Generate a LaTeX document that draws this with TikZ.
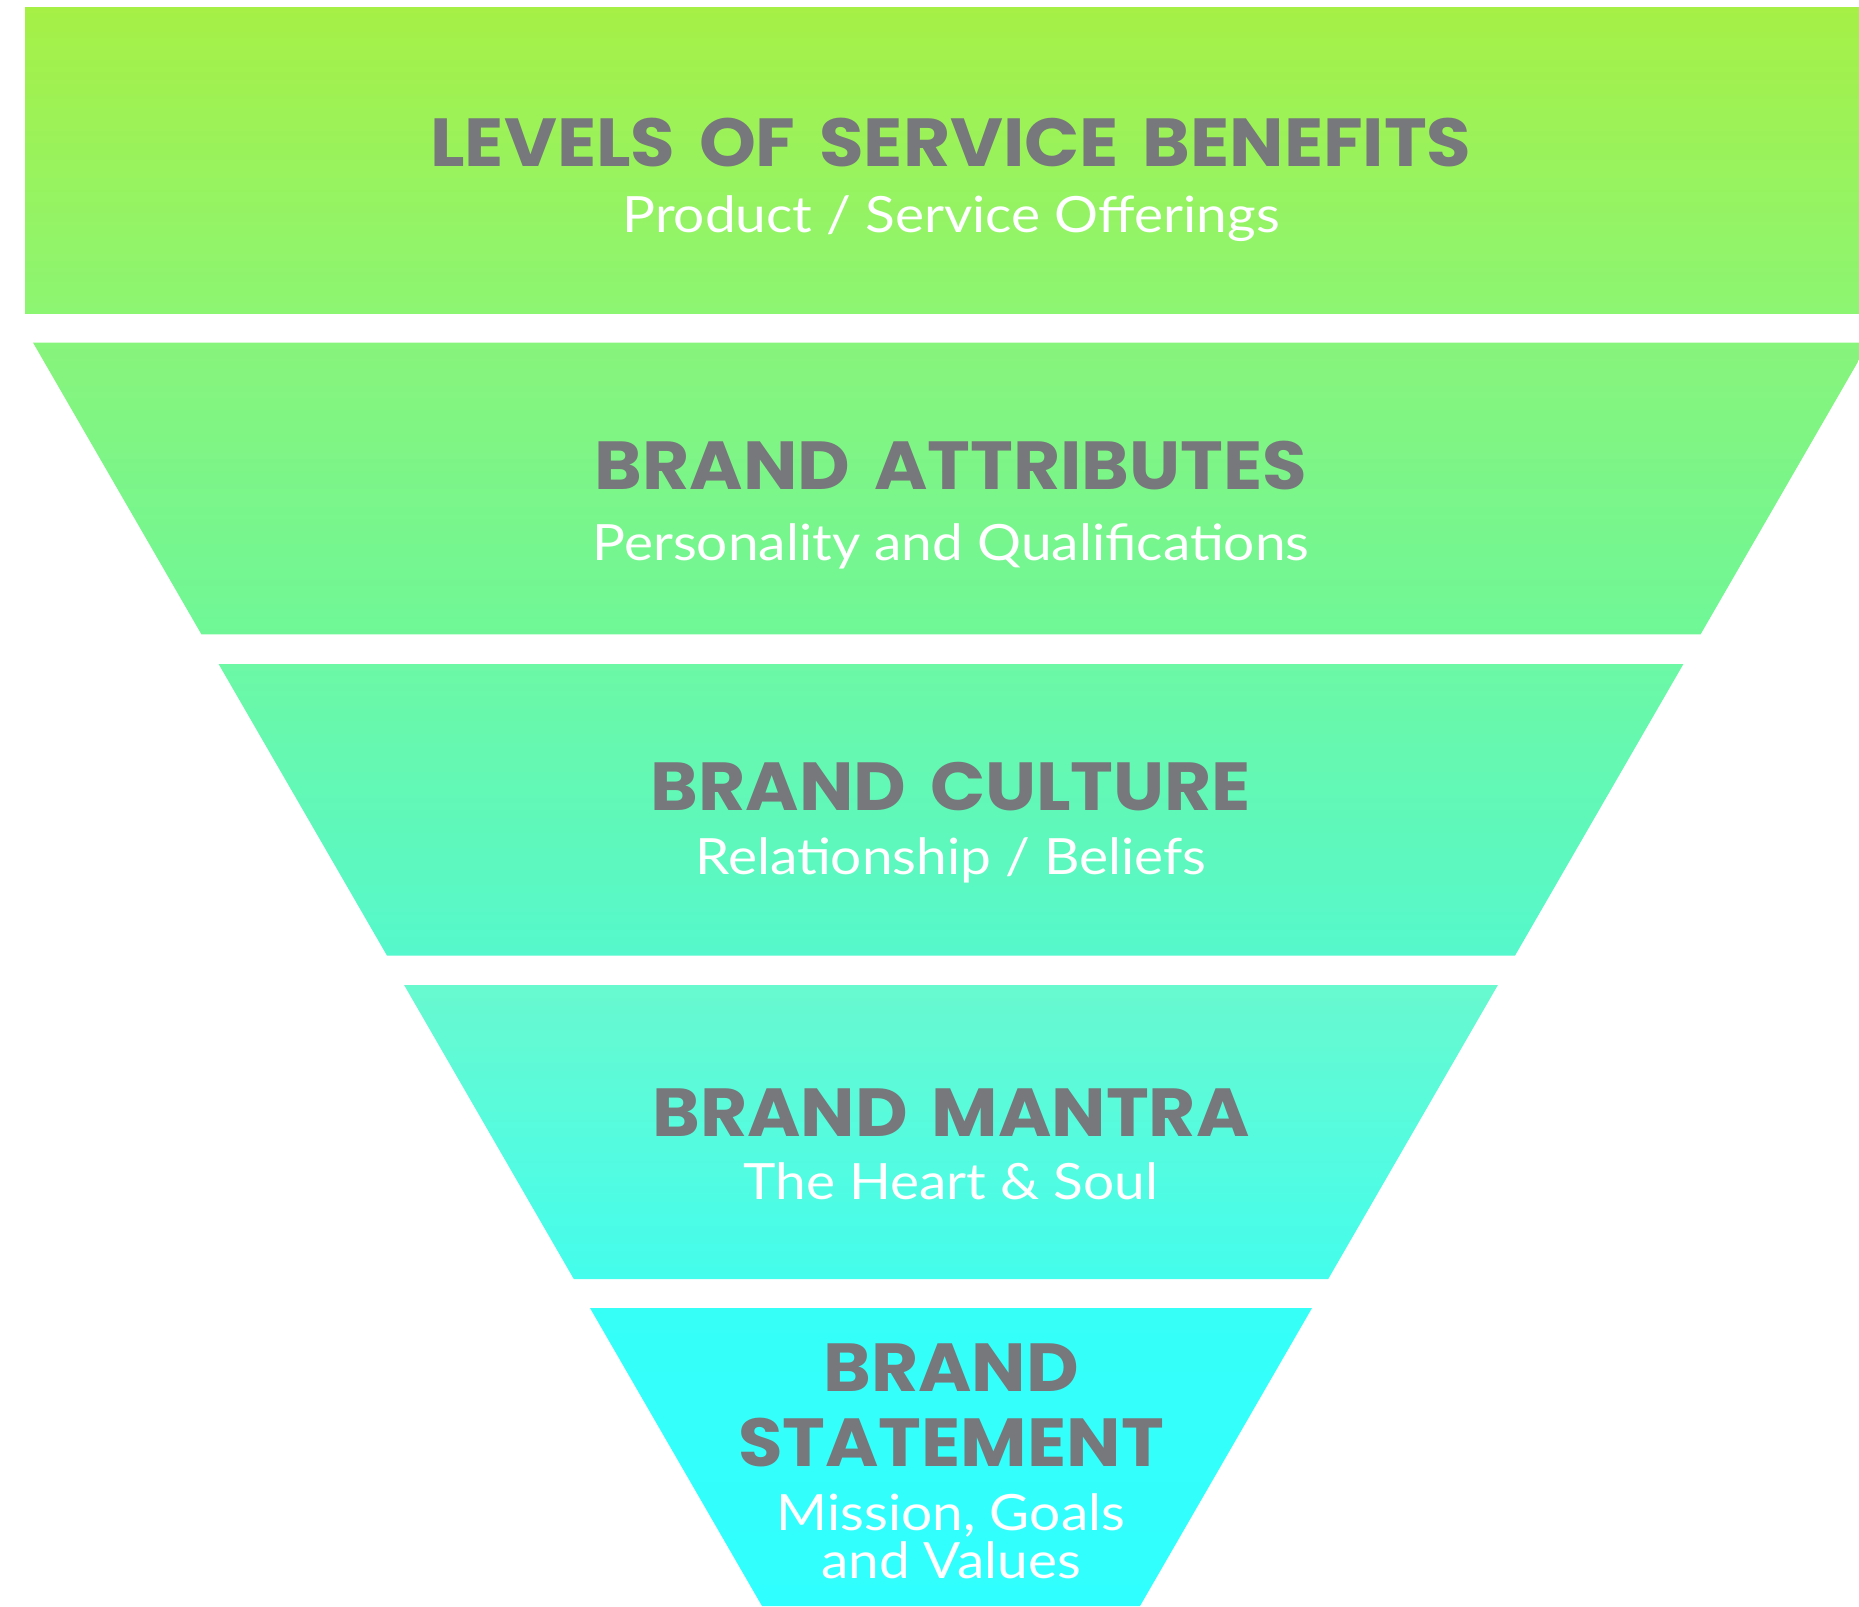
\documentclass[tikz,border=0pt]{standalone}
\usepackage{fontspec}
\newfontfamily\ttlfont{Poppins}[FakeStretch=1.065, WordSpace=1.55]
\newfontfamily\subfont{Lato}[FakeStretch=1.1]
\definecolor{ttlgray}{HTML}{77787B}
\definecolor{cA1}{HTML}{A6F046}
\definecolor{cA2}{HTML}{8CF572}
\definecolor{cB1}{HTML}{87F47B}
\definecolor{cB2}{HTML}{6FF797}
\definecolor{cC1}{HTML}{6CF8A5}
\definecolor{cC2}{HTML}{55F8CC}
\definecolor{cD1}{HTML}{68F9CF}
\definecolor{cD2}{HTML}{44FDEC}
\definecolor{cE1}{HTML}{36FFF8}
\definecolor{cE2}{HTML}{30FFFF}
\tikzset{
  ttl/.style={anchor=base, inner sep=0pt, text=ttlgray, font=\ttlfont\bfseries\fontsize{68}{68}\selectfont},
  sub/.style={anchor=base, inner sep=0pt, text=white, font=\subfont\fontsize{50}{50}\selectfont},
}
\begin{document}
\begin{tikzpicture}[x=1pt,y=-1pt]
\useasboundingbox (0,0) rectangle (1859,1606);
\begin{scope}
\clip (0,0) rectangle (1859,1606);
% band 1
\shade[top color=cA1, bottom color=cA2] (25,7) rectangle (1890,313);
% band 2
\shade[top color=cB1, bottom color=cB2] (33,342.6) -- (1869,342.6) -- (1700.6,634.3) -- (201.4,634.3) -- cycle;
% band 3
\shade[top color=cC1, bottom color=cC2] (218.6,664) -- (1683.4,664) -- (1515,955.6) -- (387,955.6) -- cycle;
% band 4
\shade[top color=cD1, bottom color=cD2] (404.1,985) -- (1497.9,985) -- (1328.2,1279) -- (573.8,1279) -- cycle;
% band 5
\shade[top color=cE1, bottom color=cE2] (590,1308) -- (1312,1308) -- (1140,1606) -- (762,1606) -- cycle;
\end{scope}
\node[ttl] (t1) at (951,166) {LEVELS OF SERVICE BENEFITS};
\node[sub] (s1) at (951,232.7) {Product / Service Offerings};
\node[ttl] (t2) at (951,489.7) {BRAND ATTRIBUTES};
\node[sub] (s2) at (951,560) {Personality and Qualifications};
\node[ttl] (t3) at (951,810) {BRAND CULTURE};
\node[sub] (s3) at (951,874) {Relationship / Beliefs};
\node[ttl] (t4) at (951,1136) {BRAND MANTRA};
\node[sub] (s4) at (951,1199) {The Heart \& Soul};
\node[ttl] (t5a) at (951,1391) {BRAND};
\node[ttl] (t5b) at (951,1466.7) {STATEMENT};
\node[sub] (s5a) at (951,1530.7) {Mission, Goals};
\node[sub] (s5b) at (951,1578.7) {and Values};
\end{tikzpicture}
\end{document}
